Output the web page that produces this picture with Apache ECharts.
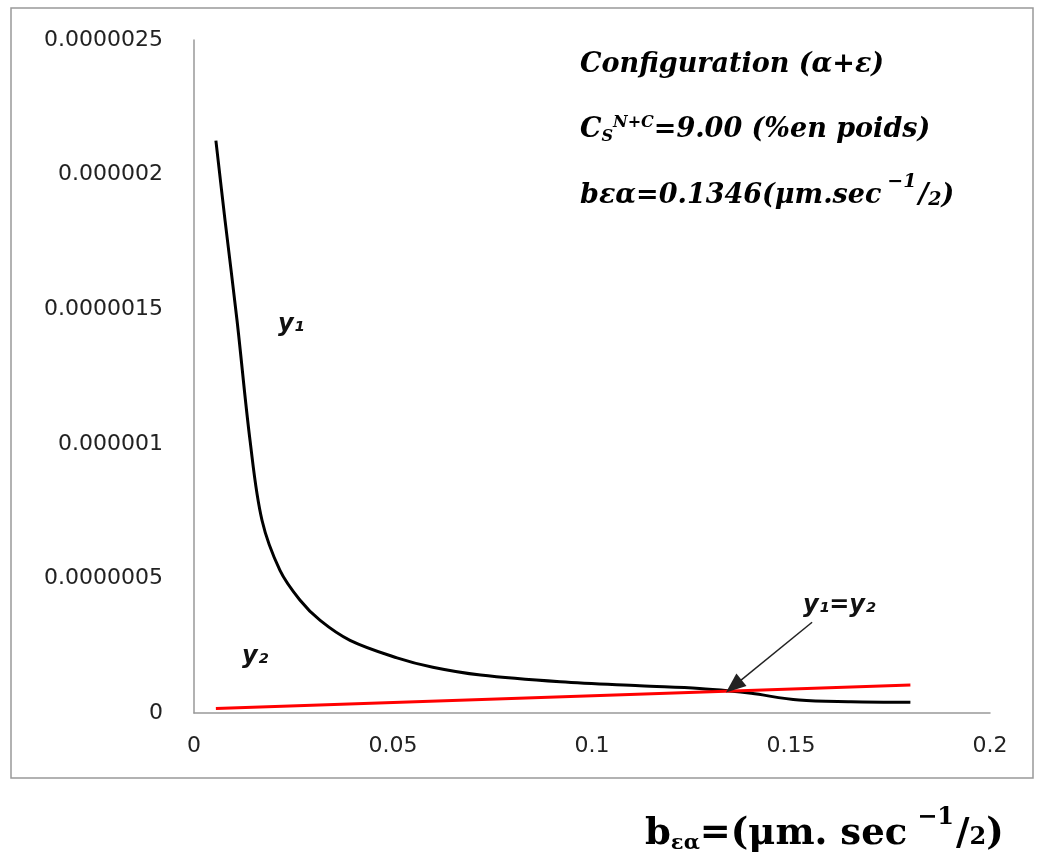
<!DOCTYPE html>
<html>
<head>
<meta charset="utf-8">
<script src="https://cdn.jsdelivr.net/npm/echarts@6/dist/echarts.min.js"></script>
<style>
html,body{margin:0;padding:0;background:#fff;}
#chart{width:1040px;height:862px;}
</style>
</head>
<body>
<div id="chart"></div>
<script>
// ---- data ----
var y1X = [0.0055, 0.0078, 0.0108, 0.0141, 0.0171, 0.0216, 0.0266, 0.0317, 0.0392, 0.051, 0.06, 0.072, 0.092, 0.112, 0.127, 0.1346, 0.14, 0.152, 0.165, 0.18];
var y1Values = [2.126e-6, 1.83e-6, 1.46e-6, 1.01e-6, 0.715e-6, 0.53e-6, 0.42e-6, 0.344e-6, 0.27e-6, 0.205e-6, 0.17e-6, 0.141e-6, 0.116e-6, 0.101e-6, 0.091e-6, 0.082e-6, 0.073e-6, 0.048e-6, 0.042e-6, 0.04e-6];
var y2X = [0.0055, 0.18];
var y2Values = [0.017e-6, 0.104e-6];
var xTickLabels = ['0', '0.05', '0.1', '0.15', '0.2'];
var yTickLabels = ['0', '0.0000005', '0.000001', '0.0000015', '0.000002', '0.0000025'];
var arrowEnd = [0.1356, 0.1e-6];
var arrowStart = [0.1553, 0.337e-6];

function pairs(xs, ys) { return xs.map(function (x, i) { return [x, ys[i]]; }); }

var chart = echarts.init(document.getElementById('chart'));
var tickFont = { fontFamily: 'DejaVu Sans', fontSize: 22, color: '#222' };
var labelFont = 'bold italic 24px "DejaVu Sans"';
var serifBI = 'bold italic 27px "DejaVu Serif"';

chart.setOption({
  animation: false,
  backgroundColor: '#fff',
  grid: { left: 194, right: 50, top: 40, bottom: 149, containLabel: false },
  xAxis: {
    type: 'value', min: 0, max: 0.2, interval: 0.05,
    axisLine: { show: true, lineStyle: { color: '#999', width: 1.5 } },
    axisTick: { show: false },
    splitLine: { show: false },
    axisLabel: Object.assign({ margin: 22, formatter: function (v) { return xTickLabels[Math.round(v / 0.05)]; } }, tickFont)
  },
  yAxis: {
    type: 'value', min: 0, max: 2.5e-6, interval: 5e-7,
    axisLine: { show: true, lineStyle: { color: '#999', width: 1.5 } },
    axisTick: { show: false },
    splitLine: { show: false },
    axisLabel: Object.assign({ margin: 31, formatter: function (v) { return yTickLabels[Math.round(v / 5e-7)]; } }, tickFont)
  },
  series: [
    {
      name: 'y1', type: 'line', data: pairs(y1X, y1Values), smooth: 0.35,
      showSymbol: false, lineStyle: { color: '#000', width: 3 }, z: 3,
      markLine: {
        silent: true, symbol: ['none', 'triangle'], symbolSize: [16, 20],
        label: { show: false },
        lineStyle: { color: '#222', width: 1.5, type: 'solid' },
        data: [[{ coord: arrowStart }, { coord: arrowEnd }]]
      }
    },
    {
      name: 'y2', type: 'line', data: pairs(y2X, y2Values),
      showSymbol: false, lineStyle: { color: '#ff0000', width: 3 }, z: 4
    }
  ],
  graphic: [
    { type: 'rect', shape: { x: 11, y: 8, width: 1022, height: 770 }, style: { fill: 'none', stroke: '#999', lineWidth: 1.5 }, silent: true },
    { type: 'text', left: 580, top: 51, style: { text: 'Configuration (α+ε)', font: serifBI, fill: '#000' } },
    { type: 'text', left: 580, top: 109, style: {
        text: '{a|C}{sub|S}{sup|N+C}{a|=9.00 (%en poids)}',
        rich: {
          a: { font: serifBI, fill: '#000', lineHeight: 42, verticalAlign: 'middle' },
          sub: { font: 'bold italic 16px "DejaVu Serif"', fill: '#000', verticalAlign: 'bottom', lineHeight: 42, padding: [0, 0, 6, 0] },
          sup: { font: 'bold italic 16px "DejaVu Serif"', fill: '#000', verticalAlign: 'top', lineHeight: 42, padding: [6, 0, 0, 0] }
        } } },
    { type: 'text', left: 580, top: 173, style: {
        text: '{a|bεα=0.1346(μm.sec}{sup|−1}{a|/}{s2|2}{a|)}',
        rich: {
          a: { font: serifBI, fill: '#000', lineHeight: 46, verticalAlign: 'middle' },
          sup: { font: 'bold italic 19px "DejaVu Serif"', fill: '#000', verticalAlign: 'top', lineHeight: 46, padding: [0, 2, 0, 6] },
          s2: { font: 'bold italic 19px "DejaVu Serif"', fill: '#000', verticalAlign: 'middle', lineHeight: 46, padding: [8, 0, 0, 0] }
        } } },
    { type: 'text', left: 278, top: 313, style: { text: 'y₁', font: labelFont, fill: '#111' } },
    { type: 'text', left: 242, top: 645, style: { text: 'y₂', font: labelFont, fill: '#111' } },
    { type: 'text', left: 803, top: 594, style: { text: 'y₁=y₂', font: labelFont, fill: '#111' } },
    { type: 'text', left: 645, top: 806, style: {
        text: '{a|b}{sub|εα}{a|=(μm. sec}{sup|−1}{a|/}{s2|2}{a|)}',
        rich: {
          a: { font: 'bold 37px "DejaVu Serif"', fill: '#000', lineHeight: 56, verticalAlign: 'middle' },
          sub: { font: 'bold 21px "DejaVu Serif"', fill: '#000', verticalAlign: 'bottom', lineHeight: 56, padding: [0, 0, 8, 0] },
          sup: { font: 'bold 24px "DejaVu Serif"', fill: '#000', verticalAlign: 'top', lineHeight: 56, padding: [0, 2, 0, 10] },
          s2: { font: 'bold 24px "DejaVu Serif"', fill: '#000', verticalAlign: 'middle', lineHeight: 56, padding: [8, 0, 0, 0] }
        } } }
  ]
});
</script>
</body>
</html>
